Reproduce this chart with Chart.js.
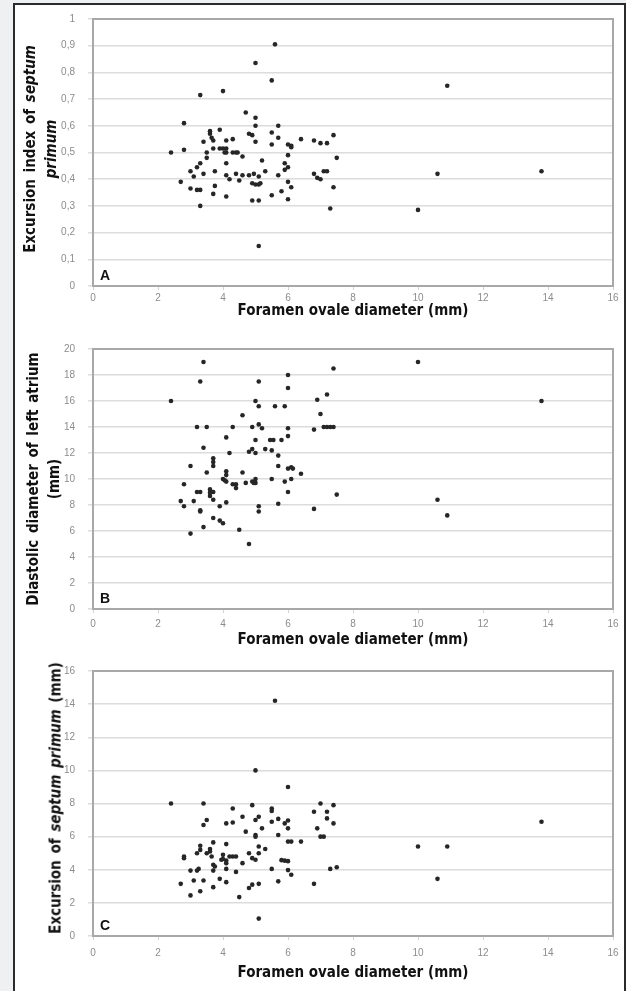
<!DOCTYPE html>
<html>
<head>
<meta charset="utf-8">
<script src="https://cdn.jsdelivr.net/npm/chart.js@4.4.1/dist/chart.umd.min.js"></script>
<style>
  html, body { margin: 0; padding: 0; }
  body {
    width: 626px;
    height: 991px;
    background: #eef0f2;
    position: relative;
    overflow: hidden;
    font-family: 'Liberation Sans Narrow', 'DejaVu Sans Condensed', sans-serif;
  }
  .frame {
    position: absolute;
    left: 13px;
    top: 3px;
    width: 609px;
    height: 1000px;
    border: 2px solid #2b2b2b;
    background: #fff;
  }
  canvas { position: absolute; left: 0; z-index: 1; }
  .ytitle {
    position: absolute;
    transform: translate(-50%, -50%) rotate(-90deg);
    white-space: nowrap;
    text-align: center;
    font-weight: bold;
    font-size: 15px;
    line-height: 21px;
    color: #111;
    word-spacing: 2px;
    z-index: 2;
  }
</style>
</head>
<body>
<div class="frame"></div>
<canvas id="chartA"></canvas>
<canvas id="chartB"></canvas>
<canvas id="chartC"></canvas>

<div class="ytitle" style="left:41px; top:149px;">Excursion index of <i>septum</i><br><i>primum</i></div>
<div class="ytitle" style="left:44px; top:479px;">Diastolic diameter of left atrium<br>(mm)</div>
<div class="ytitle" style="left:56px; top:798px;">Excursion of <i>septum primum</i> (mm)</div>

<script>
const xTicks = [0, 2, 4, 6, 8, 10, 12, 14, 16];
const yTicksA = [0, 0.1, 0.2, 0.3, 0.4, 0.5, 0.6, 0.7, 0.8, 0.9, 1];
const yTicksB = [0, 2, 4, 6, 8, 10, 12, 14, 16, 18, 20];
const yTicksC = [0, 2, 4, 6, 8, 10, 12, 14, 16];

const xTitle = 'Foramen ovale diameter (mm)';

// A: excursion index of septum primum vs foramen ovale diameter
const foramenA = [2.4, 2.7, 2.8, 2.8, 3.0, 3.0, 3.1, 3.2, 3.2, 3.3,
  3.3, 3.3, 3.3, 3.4, 3.4, 3.5, 3.5, 3.6, 3.6, 3.65,
  3.7, 3.7, 3.75, 3.75, 3.7, 3.9, 3.9, 4.0, 4.0, 4.05,
  4.1, 4.1, 4.1, 4.1, 4.1, 4.1, 4.2, 4.3, 4.3, 4.4,
  4.45, 4.4, 4.5, 4.6, 4.6, 4.7, 4.8, 4.8, 4.9, 4.9,
  4.95, 4.9, 5.0, 5.0, 5.0, 5.0, 5.0, 5.1, 5.1, 5.1,
  5.1, 5.15, 5.2, 5.3, 5.5, 5.6, 5.5, 5.5, 5.5, 5.7,
  5.7, 5.7, 5.8, 5.9, 5.9, 6.0, 6.0, 6.0, 6.0, 6.0,
  6.1, 6.1, 6.1, 6.4, 6.8, 6.8, 6.9, 7.0, 7.0, 7.2,
  7.4, 7.5, 7.1, 7.2, 7.4, 7.3, 10.0, 10.6, 10.9, 13.8];
const indexA = [0.50, 0.39, 0.61, 0.51, 0.43, 0.365, 0.41, 0.445, 0.36, 0.46,
  0.36, 0.715, 0.30, 0.54, 0.42, 0.48, 0.50, 0.58, 0.57, 0.555,
  0.545, 0.515, 0.43, 0.375, 0.345, 0.585, 0.515, 0.73, 0.515, 0.50,
  0.545, 0.46, 0.335, 0.515, 0.50, 0.415, 0.40, 0.55, 0.50, 0.50,
  0.50, 0.42, 0.395, 0.485, 0.415, 0.65, 0.415, 0.57, 0.565, 0.32,
  0.42, 0.385, 0.835, 0.63, 0.60, 0.54, 0.38, 0.38, 0.32, 0.41,
  0.15, 0.385, 0.47, 0.43, 0.77, 0.905, 0.575, 0.53, 0.34, 0.60,
  0.555, 0.415, 0.355, 0.46, 0.435, 0.53, 0.49, 0.445, 0.39, 0.325,
  0.525, 0.52, 0.37, 0.55, 0.545, 0.42, 0.405, 0.40, 0.535, 0.535,
  0.565, 0.48, 0.43, 0.43, 0.37, 0.29, 0.285, 0.42, 0.75, 0.43];

// B: diastolic diameter of left atrium
const foramenB = [2.4, 2.7, 2.8, 2.8, 3.0, 3.0, 3.1, 3.2, 3.2, 3.3,
  3.3, 3.3, 3.3, 3.4, 3.4, 3.4, 3.5, 3.5, 3.6, 3.6,
  3.6, 3.7, 3.7, 3.7, 3.7, 3.7, 3.7, 3.9, 3.9, 4.0,
  4.0, 4.05, 4.1, 4.1, 4.1, 4.1, 4.1, 4.2, 4.3, 4.3,
  4.4, 4.4, 4.6, 4.6, 4.5, 4.7, 4.8, 4.8, 4.9, 4.9,
  4.9, 4.95, 5.0, 5.0, 5.0, 5.0, 5.0, 5.1, 5.1, 5.1,
  5.1, 5.1, 5.2, 5.3, 5.45, 5.55, 5.5, 5.5, 5.6, 5.7,
  5.7, 5.7, 5.8, 5.9, 5.9, 6.0, 6.0, 6.0, 6.0, 6.0,
  6.0, 6.1, 6.15, 6.1, 6.4, 6.8, 6.8, 6.9, 7.0, 7.1,
  7.2, 7.2, 7.3, 7.4, 7.4, 7.5, 10.0, 10.6, 10.9, 13.8];
const atriumB = [16, 8.3, 9.6, 7.9, 11, 5.8, 8.3, 14, 9, 9,
  7.6, 7.5, 17.5, 19, 12.4, 6.3, 14, 10.5, 9.2, 8.95,
  8.7, 9, 11.6, 11.3, 11, 8.4, 7, 7.9, 6.8, 6.6,
  10, 9.9, 9.8, 13.2, 10.6, 10.3, 8.2, 12, 14, 9.6,
  9.6, 9.3, 14.9, 10.5, 6.1, 9.7, 5.0, 12.1, 12.3, 14,
  9.8, 9.7, 16, 13, 12, 10, 9.7, 17.5, 15.6, 14.2,
  7.9, 7.5, 13.9, 12.3, 13, 13, 12.2, 10, 15.6, 11.8,
  11, 8.1, 13, 15.6, 9.8, 18, 17, 13.9, 13.3, 10.8,
  9, 10.9, 10.8, 10, 10.4, 13.8, 7.7, 16.1, 15, 14,
  16.5, 14, 14, 14, 18.5, 8.8, 19, 8.4, 7.2, 16];

// C: excursion of septum primum (mm)
const foramenC = [2.4, 2.7, 2.8, 2.8, 3.0, 3.0, 3.1, 3.2, 3.25, 3.2,
  3.3, 3.3, 3.3, 3.4, 3.4, 3.4, 3.5, 3.5, 3.6, 3.6,
  3.65, 3.7, 3.7, 3.7, 3.7, 3.75, 3.9, 3.95, 4.0, 4.0,
  4.1, 4.1, 4.1, 4.1, 4.1, 4.1, 4.2, 4.3, 4.3, 4.3,
  4.4, 4.4, 4.5, 4.6, 4.6, 4.7, 4.8, 4.8, 4.9, 4.9,
  4.9, 5.0, 5.0, 5.0, 5.0, 5.0, 5.1, 5.1, 5.1, 5.1,
  5.1, 5.2, 5.3, 5.5, 5.5, 5.5, 5.5, 5.6, 5.7, 5.7,
  5.7, 5.8, 5.9, 5.9, 6.0, 6.0, 6.0, 6.0, 6.0, 6.0,
  6.1, 6.1, 6.4, 6.8, 6.8, 6.9, 7.0, 7.0, 7.1, 7.2,
  7.2, 7.3, 7.4, 7.4, 7.5, 10.0, 10.9, 10.6, 13.8];
const excursionC = [8, 3.15, 4.8, 4.7, 2.45, 3.95, 3.35, 3.95, 4.05, 5.0,
  5.2, 5.45, 2.7, 8, 6.7, 3.35, 7, 5.0, 5.25, 5.1,
  4.8, 5.65, 4.3, 3.95, 2.95, 4.2, 3.45, 4.6, 4.9, 4.65,
  5.55, 6.8, 4.55, 4.4, 4.05, 3.25, 4.8, 4.8, 6.85, 7.7,
  4.8, 3.87, 2.35, 7.2, 4.4, 6.3, 5.0, 2.9, 7.9, 4.7,
  3.1, 10, 7.0, 6.1, 6.0, 4.6, 7.2, 5.4, 5.0, 3.15,
  1.05, 6.5, 5.25, 7.7, 7.55, 6.9, 4.05, 14.2, 7.07, 6.1,
  3.3, 4.58, 6.8, 4.55, 4.52, 9.0, 6.97, 6.5, 5.7, 3.98,
  5.7, 3.7, 5.7, 7.5, 3.15, 6.5, 8, 6.0, 6.0, 7.1,
  7.5, 4.05, 7.9, 6.8, 4.15, 5.4, 5.4, 3.45, 6.9];

const TITLE_SIZE = 15;
const TITLE_LH = 1.2;
const TICK_SIZE = 10;

// plot frame + panel letter
const panelDecor = {
  id: 'panelDecor',
  beforeDatasetsDraw: function (chart) {
    const a = chart.chartArea;
    const ctx = chart.ctx;
    ctx.save();
    ctx.strokeStyle = '#a8a8a8';
    ctx.lineWidth = 2;
    ctx.strokeRect(a.left, a.top, a.right - a.left, a.bottom - a.top);
    ctx.restore();
  },
  afterDraw: function (chart, args, opts) {
    const a = chart.chartArea;
    const ctx = chart.ctx;
    ctx.save();
    ctx.fillStyle = '#111';
    ctx.font = 'bold 14px "Liberation Sans", Arial, sans-serif';
    ctx.textBaseline = 'alphabetic';
    ctx.fillText(opts.letter, a.left + 7, a.bottom - 6);
    ctx.restore();
  }
};

function formatTick(value) {
  return String(Math.round(value * 10) / 10).replace('.', ',');
}

function makePanel(id, xs, ys, yTicks, letter, box) {
  const canvas = document.getElementById(id);
  const height = Math.round(box.titleCenter + TITLE_SIZE * TITLE_LH / 2 - box.canvasTop);
  canvas.width = 626;
  canvas.height = height;
  canvas.style.width = '626px';
  canvas.style.height = height + 'px';
  canvas.style.top = box.canvasTop + 'px';

  const points = xs.map(function (x, i) {
    return { x: x, y: ys[i] };
  });

  new Chart(canvas, {
    type: 'scatter',
    data: {
      datasets: [
        {
          data: points,
          backgroundColor: '#262626',
          borderWidth: 0,
          pointRadius: 2.3,
          pointHoverRadius: 2.3
        }
      ]
    },
    options: {
      responsive: false,
      animation: false,
      events: [],
      layout: {
        padding: { top: box.plotTop - box.canvasTop, right: 13, left: 0, bottom: 0 }
      },
      plugins: {
        legend: { display: false },
        tooltip: { enabled: false },
        panelDecor: { letter: letter }
      },
      scales: {
        x: {
          type: 'linear',
          min: 0,
          max: 16,
          afterBuildTicks: function (scale) {
            scale.ticks = xTicks.map(function (v) { return { value: v }; });
          },
          afterFit: function (scale) {
            scale.height = height - (box.plotBottom - box.canvasTop);
          },
          grid: { drawOnChartArea: false, tickLength: 4, color: '#d4d4d4' },
          border: { display: false },
          ticks: {
            padding: box.tickCenter - box.plotBottom - 4 - TICK_SIZE * 1.2 / 2,
            color: '#8c8c8c',
            font: { family: 'Liberation Sans', size: TICK_SIZE },
            maxRotation: 0,
            autoSkip: false
          },
          title: {
            display: true,
            text: xTitle,
            padding: 0,
            color: '#111',
            font: {
              family: "'Liberation Sans Narrow', 'DejaVu Sans Condensed', sans-serif",
              weight: 'bold',
              size: TITLE_SIZE,
              lineHeight: TITLE_LH
            }
          }
        },
        y: {
          type: 'linear',
          min: yTicks[0],
          max: yTicks[yTicks.length - 1],
          afterBuildTicks: function (scale) {
            scale.ticks = yTicks.map(function (v) { return { value: v }; });
          },
          afterFit: function (scale) {
            scale.width = 93;
          },
          grid: { color: '#dcdcdc', lineWidth: 1.5, tickLength: 5 },
          border: { display: false },
          ticks: {
            padding: 13,
            color: '#8c8c8c',
            font: { family: 'Liberation Sans', size: TICK_SIZE },
            autoSkip: false,
            callback: formatTick
          }
        }
      }
    },
    plugins: [panelDecor]
  });
}

makePanel('chartA', foramenA, indexA, yTicksA, 'A',
  { canvasTop: 0, plotTop: 15, plotBottom: 286, tickCenter: 298, titleCenter: 311 });
makePanel('chartB', foramenB, atriumB, yTicksB, 'B',
  { canvasTop: 320, plotTop: 349, plotBottom: 609, tickCenter: 624, titleCenter: 640 });
makePanel('chartC', foramenC, excursionC, yTicksC, 'C',
  { canvasTop: 652, plotTop: 666, plotBottom: 936, tickCenter: 953, titleCenter: 973 });
</script>
</body>
</html>
